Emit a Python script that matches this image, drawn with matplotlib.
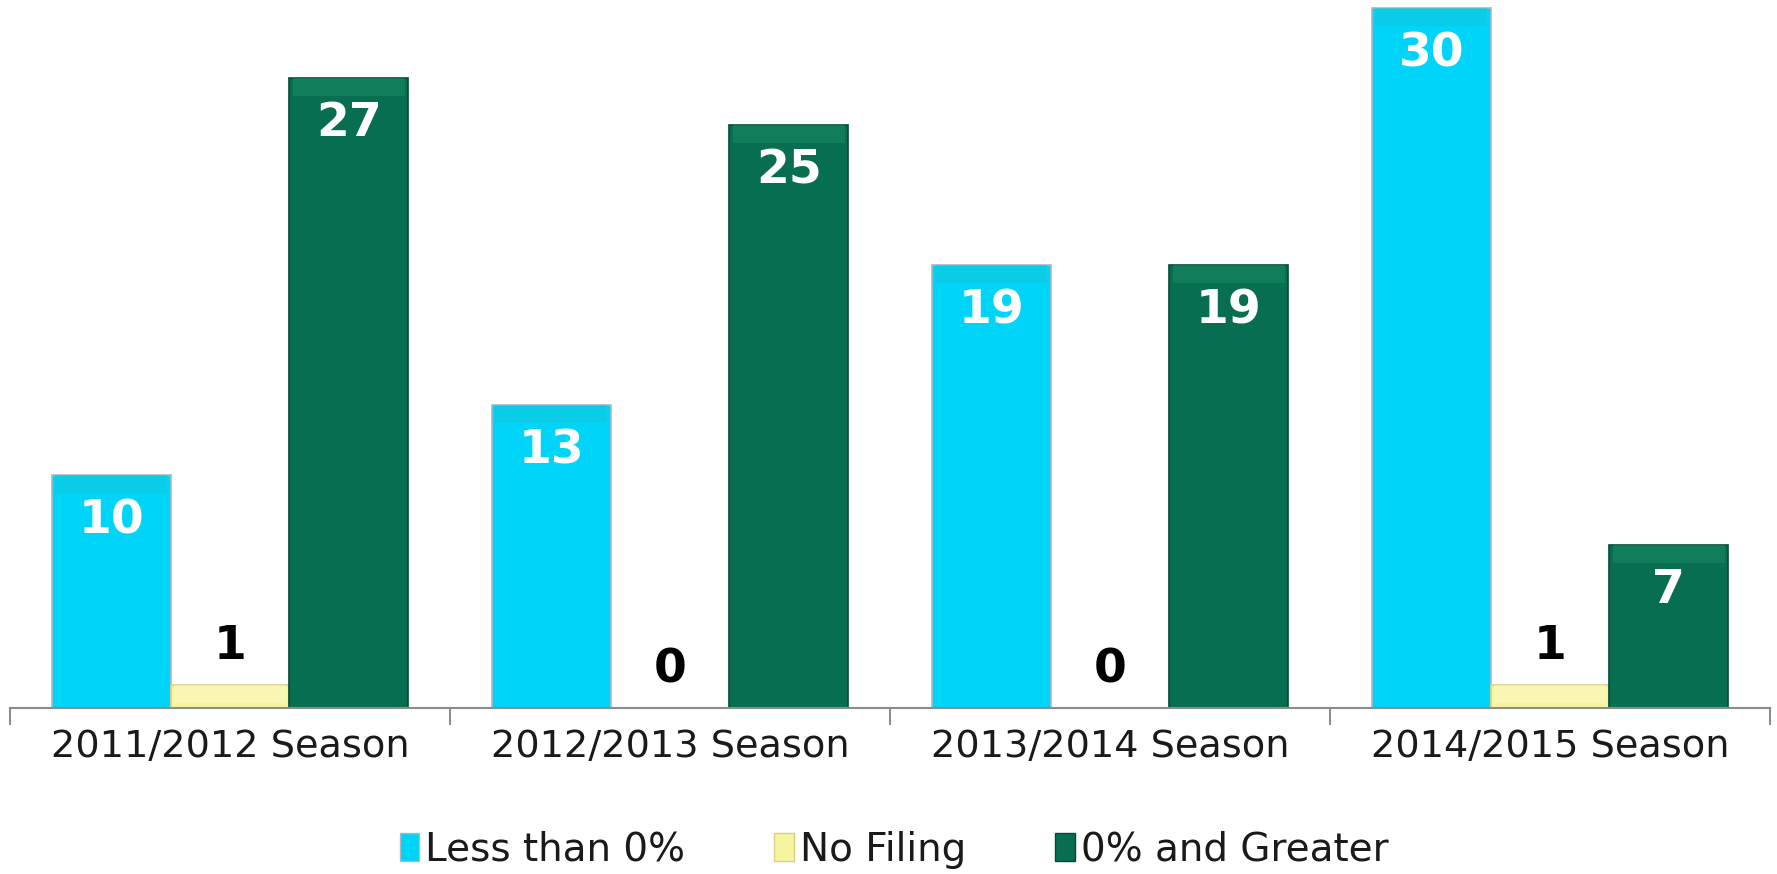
import matplotlib
matplotlib.use("Agg")
import matplotlib.pyplot as plt
from matplotlib.patches import Patch
import numpy as np

seasons = ["2011/2012 Season", "2012/2013 Season", "2013/2014 Season", "2014/2015 Season"]
series_names = ["Less than 0%", "No Filing", "0% and Greater"]
less_than_0 = [10, 13, 19, 30]
no_filing = [1, 0, 0, 1]
zero_and_greater = [27, 25, 19, 7]

colors = ["#00D5F9", "#F8F5A0", "#076E52"]
edges = ["#A8B8C8", "#D8D080", "#044A37"]
band_colors = ["#12C8D8", "#FCFAC8", "#1A8A62"]
label_colors = ["white", "black", "white"]

fig = plt.figure(figsize=(17.77, 8.74), dpi=100)
ax = fig.add_axes([10/1777, 166/874, 1760/1777, 708/874])

x = np.arange(len(seasons))
w = 0.27
offsets = [-w, 0, w]
all_series = [less_than_0, no_filing, zero_and_greater]
px_per_unit = 700 / 30

for vals, off, c, ec, bc, lc in zip(all_series, offsets, colors, edges, band_colors, label_colors):
    ax.bar(x + off, vals, width=w, color=c, edgecolor=ec, linewidth=1.2, zorder=2)
    # subtle bevel band at bar tops
    vals_arr = np.array(vals, dtype=float)
    band = np.minimum(vals_arr, 18 / px_per_unit)
    ax.bar(x + off, band, bottom=vals_arr - band, width=w * 0.94, color=bc,
           linewidth=0, alpha=0.55, zorder=3)
    for xi, v in zip(x + off, vals):
        if lc == "white":
            ax.annotate(str(v), (xi, v), xytext=(0, -46), textcoords="offset pixels",
                        ha="center", va="center", color="white", fontsize=34,
                        fontweight="bold", zorder=4)
        else:
            ax.annotate(str(v), (xi, v), xytext=(0, 38), textcoords="offset pixels",
                        ha="center", va="center", color="black", fontsize=34,
                        fontweight="bold", zorder=4)

ax.set_xlim(-0.5, len(seasons) - 0.5)
ax.set_ylim(0, 30 * 708 / 700)
ax.set_yticks([])
for s in ["top", "right", "left"]:
    ax.spines[s].set_visible(False)
ax.spines["bottom"].set_color("#8C8C8C")
ax.spines["bottom"].set_linewidth(1.5)

ax.set_xticks(x)
ax.set_xticklabels(seasons, fontsize=27.5, color="#1a1a1a")
ax.tick_params(axis="x", which="major", length=0, pad=15)
ax.set_xticks(np.arange(-0.5, len(seasons)), minor=True)
ax.tick_params(axis="x", which="minor", length=12, width=1.5, color="#8C8C8C")

handles = [Patch(facecolor=c, edgecolor=ec, label=n) for c, ec, n in zip(colors, edges, series_names)]
fig.legend(handles=handles, loc="center", bbox_to_anchor=(0.503, 0.028), ncol=3,
           frameon=False, fontsize=28, handlelength=0.5, handleheight=0.75,
           handletextpad=0.15, columnspacing=2.3, labelcolor="#1a1a1a")

fig.savefig("out.png", dpi=100)
